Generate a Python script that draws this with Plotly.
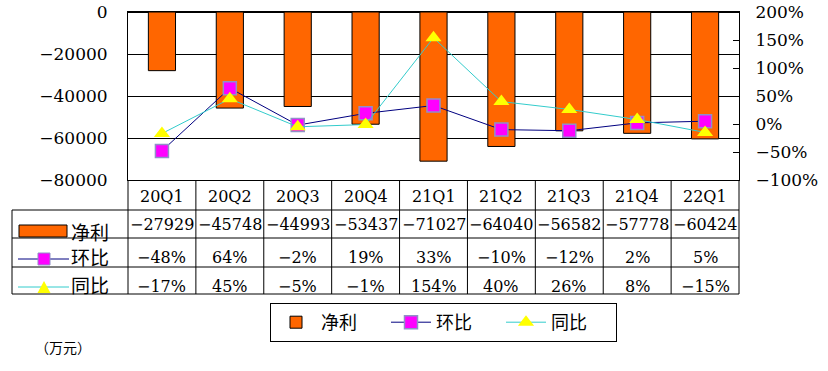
import plotly.graph_objects as go

# ---- data ----
categories = ["20Q1", "20Q2", "20Q3", "20Q4", "21Q1", "21Q2", "21Q3", "21Q4", "22Q1"]
net_profit = [-27929, -45748, -44993, -53437, -71027, -64040, -56582, -57778, -60424]
qoq_pct = [-48, 64, -2, 19, 33, -10, -12, 2, 5]
yoy_pct = [-17, 45, -5, -1, 154, 40, 26, 8, -15]
series_names = ["净利", "环比", "同比"]
unit_label = "（万元）"

# ---- layout constants (page pixels) ----
FW, FH = 828, 371
L, R, T, B = 128, 739, 12, 180          # plot area
W, H = R - L, B - T

def PX(x):
    return (x - L) / W

def PY(y):
    return (B - y) / H

ORANGE = "#FF6600"
NAVY = "#000080"
MAGENTA = "#FF00FF"
CYAN = "#33CCCC"
YELLOW = "#FFFF00"
NUM_FONT = "DejaVu Serif, Noto Sans CJK SC"
CJK_FONT = "Noto Sans CJK SC, DejaVu Serif"

fig = go.Figure()
fig.add_trace(go.Bar(
    x=categories, y=net_profit, name=series_names[0],
    marker=dict(color=ORANGE, line=dict(color="black", width=1)),
    width=0.4, yaxis="y",
))
fig.add_trace(go.Scatter(
    x=categories, y=qoq_pct, name=series_names[1], mode="lines+markers",
    line=dict(color=NAVY, width=1),
    marker=dict(symbol="square", size=13, color=MAGENTA, line=dict(color="#9090C8", width=1.5)),
    yaxis="y2",
))
fig.add_trace(go.Scatter(
    x=categories, y=yoy_pct, name=series_names[2], mode="lines+markers",
    line=dict(color=CYAN, width=1),
    marker=dict(symbol="triangle-up", size=14, color=YELLOW, line=dict(width=0)),
    yaxis="y2",
))

def fmt_num(v):
    return str(v).replace("-", "\u2212")

def fmt_pct(v):
    return fmt_num(v) + "%"

annotations = []
# table values
rows = [(net_profit, fmt_num, 223), (qoq_pct, fmt_pct, 256), (yoy_pct, fmt_pct, 285)]
for vals, f, yc in rows:
    for c, v in zip(categories, vals):
        annotations.append(dict(
            x=c, xref="x", y=PY(yc + 1), yref="paper", text=f(v), showarrow=False,
            font=dict(family=NUM_FONT, size=16, color="black"),
            xanchor="center", yanchor="middle",
        ))
# category labels
for c in categories:
    annotations.append(dict(
        x=c, xref="x", y=PY(196), yref="paper", text=c, showarrow=False,
        font=dict(family=NUM_FONT, size=16, color="black"),
        xanchor="center", yanchor="middle",
    ))
# row labels
for name, yc in zip(series_names, [231, 256, 284]):
    annotations.append(dict(
        x=PX(69), xref="paper", y=PY(yc), yref="paper", text=name, showarrow=False,
        font=dict(family=CJK_FONT, size=19, color="black"),
        xanchor="left", yanchor="middle",
    ))
annotations.append(dict(
    x=PX(33), xref="paper", y=PY(347), yref="paper", text=unit_label, showarrow=False,
    font=dict(family=CJK_FONT, size=14, color="black"),
    xanchor="left", yanchor="middle",
))

shapes = []
line_black = dict(color="black", width=1)
for yy in [210, 238, 267, 294]:
    shapes.append(dict(type="line", xref="paper", yref="paper",
                       x0=PX(12), x1=PX(R), y0=PY(yy), y1=PY(yy), line=line_black))
shapes.append(dict(type="line", xref="paper", yref="paper",
                   x0=PX(12), x1=PX(12), y0=PY(210), y1=PY(294), line=line_black))
shapes.append(dict(type="line", xref="paper", yref="paper",
                   x0=0, x1=0, y0=0, y1=PY(294), line=line_black))
shapes.append(dict(type="line", xref="paper", yref="paper",
                   x0=1, x1=1, y0=0, y1=PY(294), line=line_black))
for i in range(len(categories) - 1):
    shapes.append(dict(type="line", xref="x", yref="paper",
                       x0=i + 0.5, x1=i + 0.5, y0=0, y1=PY(294), line=line_black))
# table legend keys
shapes.append(dict(type="rect", xref="paper", yref="paper",
                   x0=PX(19), x1=PX(67), y0=PY(237), y1=PY(225),
                   fillcolor=ORANGE, line=line_black))
shapes.append(dict(type="line", xref="paper", yref="paper",
                   x0=PX(18), x1=PX(69), y0=PY(259), y1=PY(259), line=dict(color=NAVY, width=1)))
shapes.append(dict(type="rect", xref="paper", yref="paper",
                   x0=PX(38), x1=PX(50), y0=PY(265), y1=PY(253),
                   fillcolor=MAGENTA, line=dict(color="#9090C8", width=1)))
shapes.append(dict(type="line", xref="paper", yref="paper",
                   x0=PX(18), x1=PX(69), y0=PY(287), y1=PY(287), line=dict(color=CYAN, width=1)))
shapes.append(dict(type="path", xref="paper", yref="paper",
                   path=f"M {PX(44)} {PY(281)} L {PX(37.5)} {PY(293)} L {PX(50.5)} {PY(293)} Z",
                   fillcolor=YELLOW, line=dict(width=0)))

fig.update_layout(
    width=FW, height=FH,
    margin=dict(l=L, r=FW - R, t=T, b=FH - B, pad=0, autoexpand=False),
    paper_bgcolor="white", plot_bgcolor="white",
    font=dict(family=NUM_FONT, size=16, color="black"),
    xaxis=dict(
        type="category", range=[-0.5, len(categories) - 0.5],
        showticklabels=False, ticks="", showgrid=False,
        showline=True, linecolor="black", linewidth=1, mirror=True, zeroline=False,
    ),
    yaxis=dict(
        range=[-80000, 0], dtick=20000, tickformat="d",
        showgrid=True, gridcolor="black", gridwidth=1,
        zeroline=True, zerolinecolor="black", zerolinewidth=1,
        showline=True, linecolor="black", linewidth=1, ticks="",
        ticklabelstandoff=16,
        tickfont=dict(family=NUM_FONT, size=17),
    ),
    yaxis2=dict(
        overlaying="y", side="right", range=[-100, 200], dtick=50, ticksuffix="%",
        showgrid=False, zeroline=False,
        showline=True, linecolor="black", linewidth=1,
        ticks="inside", ticklen=6, tickcolor="black",
        ticklabelstandoff=12,
        tickfont=dict(family=NUM_FONT, size=17),
    ),
    bargap=0.6,
    showlegend=True,
    legend=dict(
        orientation="h", x=PX(270), y=PY(303), xanchor="left", yanchor="top",
        bordercolor="black", borderwidth=1, bgcolor="white",
        font=dict(family=CJK_FONT, size=18, color="black"),
        entrywidth=60, itemwidth=40, tracegroupgap=0,
    ),
    annotations=annotations,
    shapes=shapes,
)

fig.write_html("out.html", config={"displayModeBar": False},
               post_script="document.body.style.margin='0';")
